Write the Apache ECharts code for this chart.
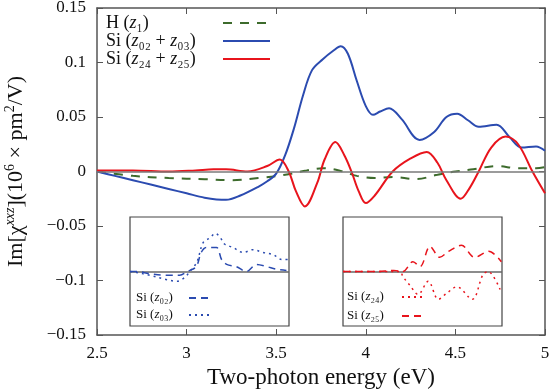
<!DOCTYPE html>
<html>
<head>
<meta charset="utf-8">
<script src="https://cdn.jsdelivr.net/npm/echarts@6/dist/echarts.min.js"></script>
<style>
  html, body { margin: 0; padding: 0; background: #fff; }
  #chart-container { width: 551px; height: 391px; }
</style>
</head>
<body>
<div id="chart-container"></div>
<script>
var dom = document.getElementById("chart-container");
var myChart = echarts.init(dom, null, { renderer: "canvas" });

// main panel: H (z1)
var hX = [2.5, 2.7, 2.9, 3.1, 3.25, 3.4, 3.55, 3.67, 3.76, 3.85, 3.95, 4.05, 4.15, 4.28, 4.4, 4.5, 4.6, 4.73, 4.85, 4.95, 5.0];
var hY = [0, -0.004, -0.006, -0.007, -0.008, -0.006, -0.003, 0.001, 0.003, 0.001, -0.004, -0.006, -0.005, -0.007, -0.003, 0.0, 0.002, 0.005, 0.003, 0.003, 0.004];

// main panel: Si (z02 + z03)
var siAX = [2.5, 2.6, 2.7, 2.8, 2.9, 3.0, 3.1, 3.22, 3.3, 3.4, 3.45, 3.5, 3.55, 3.6, 3.65, 3.7, 3.76, 3.82, 3.86, 3.9, 3.95, 4.0, 4.04, 4.08, 4.13, 4.2, 4.3, 4.38, 4.45, 4.51, 4.57, 4.63, 4.73, 4.8, 4.87, 4.95, 5.0];
var siAY = [0, -0.004, -0.008, -0.012, -0.016, -0.020, -0.024, -0.026, -0.022, -0.014, -0.009, -0.002, 0.015, 0.040, 0.070, 0.093, 0.103, 0.111, 0.115, 0.108, 0.083, 0.060, 0.052, 0.055, 0.058, 0.048, 0.029, 0.036, 0.050, 0.053, 0.047, 0.041, 0.043, 0.032, 0.022, 0.023, 0.019];

// main panel: Si (z24 + z25)
var siBX = [2.5, 2.7, 2.9, 3.05, 3.15, 3.22, 3.34, 3.45, 3.52, 3.57, 3.61, 3.66, 3.73, 3.77, 3.83, 3.88, 3.92, 3.96, 4.0, 4.05, 4.15, 4.25, 4.34, 4.4, 4.45, 4.53, 4.58, 4.63, 4.7, 4.78, 4.85, 4.93, 5.0];
var siBY = [0.001, 0.001, 0.0, 0.001, 0.002, 0.002, 0.0, 0.005, 0.011, 0.0, -0.018, -0.032, -0.010, 0.011, 0.027, 0.015, 0.0, -0.018, -0.029, -0.022, 0.0, 0.012, 0.018, 0.008, -0.008, -0.025, -0.015, 0.0, 0.022, 0.032, 0.025, 0.0, -0.020];

// left inset: Si (z02), Si (z03)
var z02X = [2.5, 2.61, 2.81, 3.08, 3.28, 3.4, 3.54, 3.62, 3.7, 3.86, 3.94, 4.02, 4.17, 4.33, 4.49, 4.65, 4.8, 4.96];
var z02Y = [0, 0, -0.004, -0.007, -0.007, 0, 0.009, 0.035, 0.044, 0.044, 0.022, 0.013, 0.009, 0, 0.013, 0.009, 0.004, 0.002];
var z03X = [2.5, 2.61, 2.81, 3.08, 3.24, 3.36, 3.44, 3.55, 3.65, 3.76, 3.84, 3.92, 3.99, 4.12, 4.28, 4.43, 4.59, 4.75, 4.89, 4.98];
var z03Y = [0, -0.002, -0.007, -0.015, -0.018, -0.011, 0, 0.017, 0.053, 0.062, 0.070, 0.062, 0.050, 0.044, 0.035, 0.040, 0.035, 0.031, 0.022, 0.022];

// right inset: Si (z24), Si (z25)
var z24X = [2.5, 3.0, 3.4, 3.44, 3.55, 3.68, 3.84, 4.0, 4.14, 4.29, 4.53, 4.7, 4.78, 4.97];
var z24Y = [0, 0, 0, -0.009, -0.025, -0.042, -0.018, -0.051, -0.039, -0.028, -0.051, -0.006, 0, -0.033];
var z25X = [2.5, 3.0, 3.2, 3.3, 3.44, 3.6, 3.71, 3.87, 4.02, 4.16, 4.36, 4.57, 4.79, 4.99];
var z25Y = [0, 0, 0.001, 0.002, 0, 0.018, 0.009, 0.046, 0.026, 0.037, 0.048, 0.026, 0.037, 0.018];

var xTicks = { min: 2.5, max: 5, interval: 0.5 };
var yTicks = { min: -0.15, max: 0.15, interval: 0.05 };

var serif = "Liberation Serif";
var blue = "#2b4bb0";
var red = "#e8141c";
var green = "#3d6b2c";
var axisGrey = "#555";

function zip(xs, ys) {
  return xs.map(function (x, i) { return [x, ys[i]]; });
}

function zeroLine(color) {
  return {
    silent: true,
    symbol: "none",
    label: { show: false },
    lineStyle: { color: color, type: "solid", width: 1.5 },
    data: [{ yAxis: 0 }],
  };
}

// measure text so legend labels are left aligned with their icons lined up
var measureCtx = document.createElement("canvas").getContext("2d");
function textWidth(str, font) {
  measureCtx.font = font;
  return measureCtx.measureText(str).width;
}

function makeLegend(names, size, boxWidth, lineH, extra) {
  var regFont = size + "px '" + serif + "'";
  var itFont = "italic " + size + "px '" + serif + "'";
  var rich = {
    r: { fontFamily: serif, fontSize: size, color: "#111", lineHeight: lineH },
    i: { fontFamily: serif, fontSize: size, fontStyle: "italic", color: "#111", lineHeight: lineH },
  };
  var labels = {};
  names.forEach(function (name, k) {
    var parts = name.split("z");
    var w = 0;
    parts.forEach(function (p) { w += textWidth(p, regFont); });
    w += (parts.length - 1) * textWidth("z", itFont);
    rich["p" + k] = { width: Math.max(1, boxWidth - w), fontSize: size, lineHeight: lineH };
    labels[name] = parts.map(function (p) { return p ? "{r|" + p + "}" : ""; }).join("{i|z}") + "{p" + k + "| }";
  });
  var legend = {
    data: names,
    orient: "vertical",
    align: "right",
    padding: 0,
    itemStyle: { color: "transparent", borderColor: "transparent", borderWidth: 0, opacity: 0 },
    formatter: function (name) { return labels[name]; },
    textStyle: { fontFamily: serif, fontSize: size, color: "#111", lineHeight: lineH, rich: rich },
  };
  return Object.assign(legend, extra);
}

var option = {
  animation: false,
  backgroundColor: "#fff",
  textStyle: { fontFamily: serif },
  grid: [
    { left: 97, right: 6, top: 8, bottom: 56, outerBoundsMode: "none" },
    { left: 130, top: 217, width: 159, height: 109, outerBoundsMode: "none", show: true, borderColor: "#444", borderWidth: 1.2, backgroundColor: "#fff", z: 3 },
    { left: 343, top: 217, width: 159, height: 109, outerBoundsMode: "none", show: true, borderColor: "#444", borderWidth: 1.2, backgroundColor: "#fff", z: 3 },
  ],
  legend: [
    makeLegend(["H (z₁)", "Si (z₀₂ + z₀₃)", "Si (z₂₄ + z₂₅)"], 18, 112, 18,
      { left: 106, top: 14, itemWidth: 47, itemHeight: 14, itemGap: 0 }),
    makeLegend(["Si (z₀₂)", "Si (z₀₃)"], 13, 48, 14,
      { left: 136, top: 291, itemWidth: 20, itemHeight: 12, itemGap: 3 }),
    makeLegend(["Si (z₂₄)", "Si (z₂₅)"], 13, 50, 14,
      { left: 347, top: 290, itemWidth: 20, itemHeight: 12, itemGap: 5 }),
  ],
  xAxis: [
    {
      type: "value", gridIndex: 0, position: "bottom",
      min: xTicks.min, max: xTicks.max, interval: xTicks.interval,
      axisLine: { onZero: false, lineStyle: { color: axisGrey, width: 1.5 } },
      axisTick: { inside: true, length: 6, lineStyle: { color: axisGrey } },
      axisLabel: { margin: 10, fontSize: 17, fontFamily: serif, color: "#111" },
      splitLine: { show: false },
      name: "Two-photon energy (eV)",
      nameLocation: "middle",
      nameGap: 21,
      nameTextStyle: { fontSize: 23, fontFamily: serif, color: "#111" },
    },
    {
      type: "value", gridIndex: 0, position: "top",
      min: xTicks.min, max: xTicks.max, interval: xTicks.interval,
      axisLine: { onZero: false, lineStyle: { color: axisGrey, width: 1.5 } },
      axisTick: { inside: true, length: 6, lineStyle: { color: axisGrey } },
      axisLabel: { show: false },
      splitLine: { show: false },
    },
    { type: "value", gridIndex: 1, min: 2.5, max: 5, show: false },
    { type: "value", gridIndex: 2, min: 2.5, max: 5, show: false },
  ],
  yAxis: [
    {
      type: "value", gridIndex: 0, position: "left",
      min: yTicks.min, max: yTicks.max, interval: yTicks.interval,
      axisLine: { onZero: false, lineStyle: { color: axisGrey, width: 1.5 } },
      axisTick: { inside: true, length: 6, lineStyle: { color: axisGrey } },
      axisLabel: {
        margin: 11, fontSize: 17, fontFamily: serif, color: "#111",
        formatter: function (v) {
          return String(Math.round(v * 100) / 100).replace("-", "−");
        },
      },
      splitLine: { show: false },
      name: "{n|Im[χ}{s|xxz}{n|](10}{t|6}{n| × pm}{t|2}{n|/V)}",
      nameLocation: "middle",
      nameGap: 70,
      nameTextStyle: {
        fontSize: 22, fontFamily: serif, color: "#111",
        rich: {
          n: { fontSize: 22, fontFamily: serif, color: "#111", lineHeight: 24, padding: [4, 0, 0, 0], verticalAlign: "bottom" },
          s: { fontSize: 14, fontFamily: serif, fontStyle: "italic", color: "#111", lineHeight: 14, verticalAlign: "top" },
          t: { fontSize: 14, fontFamily: serif, color: "#111", lineHeight: 14, verticalAlign: "top" },
        },
      },
    },
    {
      type: "value", gridIndex: 0, position: "right",
      min: yTicks.min, max: yTicks.max, interval: yTicks.interval,
      axisLine: { onZero: false, lineStyle: { color: axisGrey, width: 1.5 } },
      axisTick: { inside: true, length: 6, lineStyle: { color: axisGrey } },
      axisLabel: { show: false },
      splitLine: { show: false },
    },
    { type: "value", gridIndex: 1, min: -0.1, max: 0.1, show: false },
    { type: "value", gridIndex: 2, min: -0.1, max: 0.1, show: false },
  ],
  series: [
    {
      name: "H (z₁)", type: "line", xAxisIndex: 0, yAxisIndex: 0,
      data: zip(hX, hY), symbol: "none", smooth: 0.35,
      lineStyle: { color: green, width: 2, type: [9, 8] },
      itemStyle: { color: green },
      markLine: zeroLine("#7a7a7a"),
      z: 2,
    },
    {
      name: "Si (z₀₂ + z₀₃)", type: "line", xAxisIndex: 0, yAxisIndex: 0,
      data: zip(siAX, siAY), symbol: "none", smooth: 0.35,
      lineStyle: { color: blue, width: 2 },
      itemStyle: { color: blue },
      z: 3,
    },
    {
      name: "Si (z₂₄ + z₂₅)", type: "line", xAxisIndex: 0, yAxisIndex: 0,
      data: zip(siBX, siBY), symbol: "none", smooth: 0.35,
      lineStyle: { color: red, width: 2 },
      itemStyle: { color: red },
      z: 3,
    },
    {
      name: "Si (z₀₂)", type: "line", xAxisIndex: 2, yAxisIndex: 2,
      data: zip(z02X, z02Y), symbol: "none", smooth: 0.35,
      lineStyle: { color: blue, width: 1.5, type: [7, 5] },
      itemStyle: { color: blue },
      markLine: zeroLine("#666"),
      z: 5,
    },
    {
      name: "Si (z₀₃)", type: "line", xAxisIndex: 2, yAxisIndex: 2,
      data: zip(z03X, z03Y), symbol: "none", smooth: 0.35,
      lineStyle: { color: blue, width: 1.5, type: [2, 4] },
      itemStyle: { color: blue },
      z: 5,
    },
    {
      name: "Si (z₂₄)", type: "line", xAxisIndex: 3, yAxisIndex: 3,
      data: zip(z24X, z24Y), symbol: "none", smooth: 0.35,
      lineStyle: { color: red, width: 1.5, type: [2, 4] },
      itemStyle: { color: red },
      markLine: zeroLine("#666"),
      z: 5,
    },
    {
      name: "Si (z₂₅)", type: "line", xAxisIndex: 3, yAxisIndex: 3,
      data: zip(z25X, z25Y), symbol: "none", smooth: 0.35,
      lineStyle: { color: red, width: 1.5, type: [7, 5] },
      itemStyle: { color: red },
      z: 5,
    },
  ],
};

myChart.setOption(option);
window.addEventListener("resize", myChart.resize);
</script>
</body>
</html>
